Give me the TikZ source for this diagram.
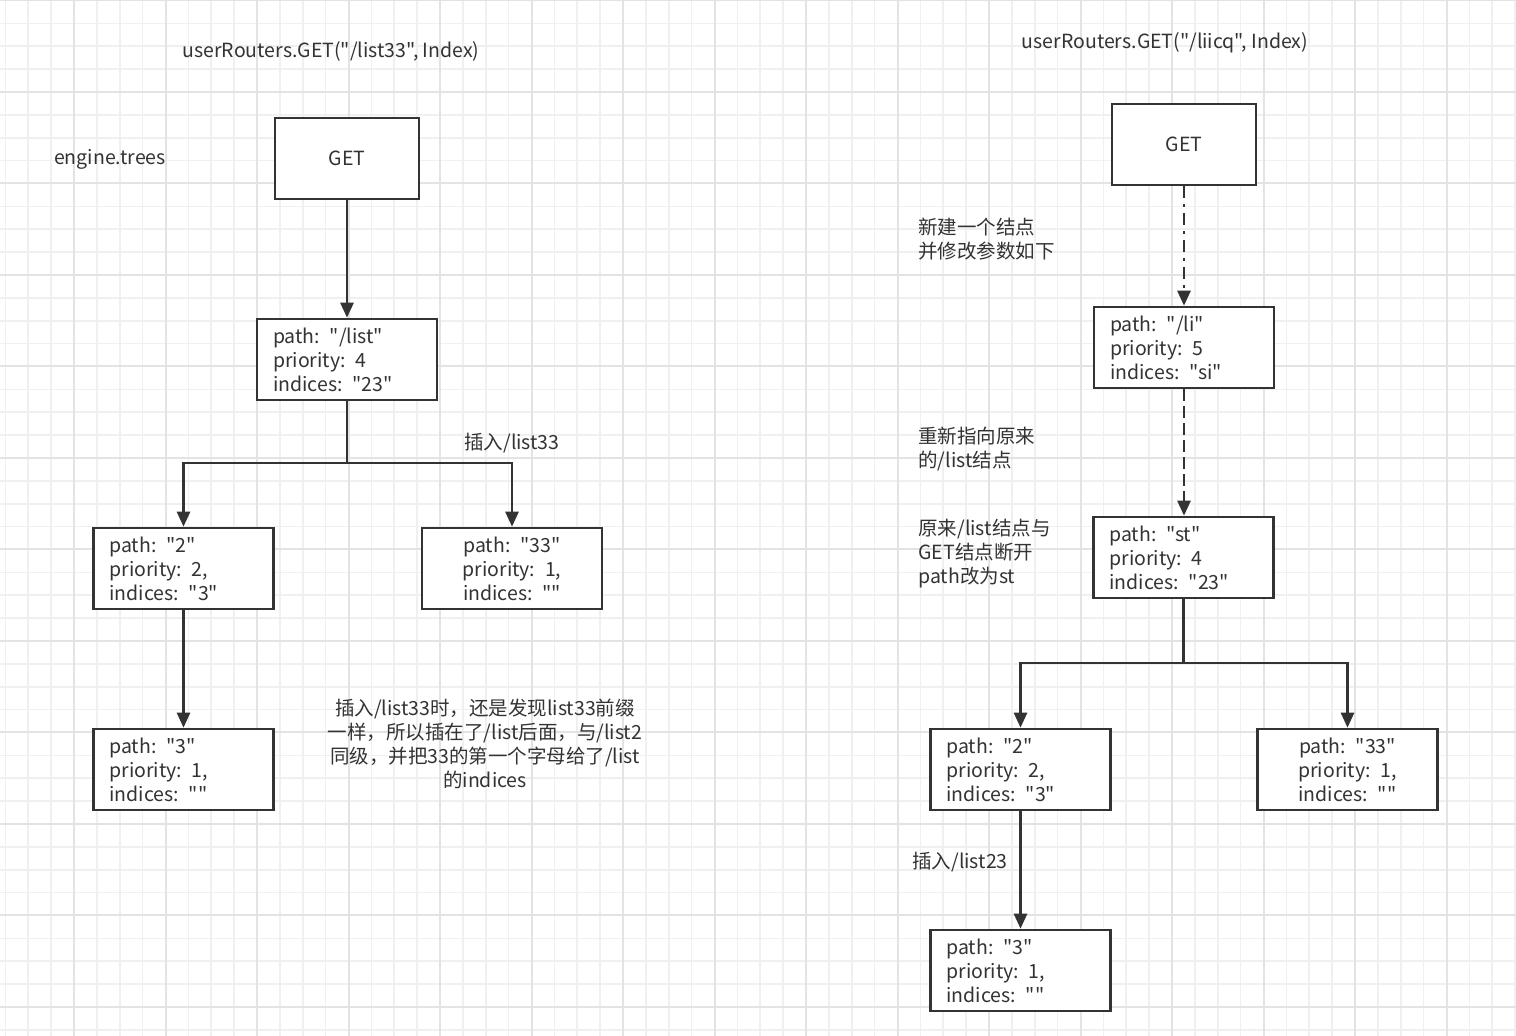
\documentclass[tikz,border=0pt]{standalone}
\usepackage{fontspec}
\setmainfont{Noto Sans CJK SC}[Ligatures=TeXOff]
\usetikzlibrary{arrows.meta}
\definecolor{ink}{HTML}{333333}
\definecolor{gridminor}{HTML}{F0F0F0}
\definecolor{gridmajor}{HTML}{E3E3E3}
\newcommand{\fs}{\fontsize{9.75pt}{12pt}\selectfont}
\newcommand{\gp}{\hspace{0.5em}}
\tikzset{
  gridmin/.style={draw=gridminor, line width=0.8pt},
  gridmaj/.style={draw=gridmajor, line width=1pt},
  box/.style={draw=ink, line width=1.3pt, fill=white, minimum width=90pt, minimum height=40.5pt,
    text width=74pt, inner xsep=8pt, inner ysep=0pt, font=\fs, text=ink},
  lbox/.style={box, align=left},
  cbox/.style={box, align=center},
  getbox/.style={draw=ink, line width=1.3pt, fill=white, minimum width=72pt, minimum height=40.5pt,
    inner sep=0pt, font=\fs, text=ink},
  lbl/.style={inner sep=0pt, font=\fs, text=ink, yshift=-1pt},
  ln/.style={draw=ink, line width=1.3pt},
  arr/.style={ln, -{Triangle[length=7.5pt,width=6.5pt]}},
}
\begin{document}
\begin{tikzpicture}[x=0.5pt,y=-0.5pt]
\useasboundingbox (0,0) rectangle (1516,1036);
\fill[white] (0,0) rectangle (1516,1036);
% grid
\foreach \i in {0,...,67} {
  \draw[gridmin] ({-17.5+22.875*\i},0) -- ({-17.5+22.875*\i},1036);
}
\foreach \i in {0,...,46} {
  \draw[gridmin] (0,{0.5+22.875*\i}) -- (1516,{0.5+22.875*\i});
}
\foreach \i in {0,...,17} {
  \draw[gridmaj] ({-17.5+91.5*\i},0) -- ({-17.5+91.5*\i},1036);
}
\foreach \i in {0,...,11} {
  \draw[gridmaj] (0,{0.5+91.5*\i}) -- (1516,{0.5+91.5*\i});
}

% ---------- left tree ----------
\node[lbl] (t1) at (331,49) {userRouters.GET("/list33", Index)};
\node[lbl] (et) at (110,157) {engine.trees};
\node[getbox] (get1) at (347,158.5) {GET};
\node[lbox] (l1) at (347,359.5) {path: "/list"\\priority:\gp 4\\indices:\gp "23"};
\node[lbox] (l2a) at (183.5,568.5) {path: "2"\\priority:\gp 2,\\indices:\gp "3"};
\node[cbox] (l2b) at (512,568.5) {path: "33"\\priority:\gp 1,\\indices:\gp ""};
\node[lbox] (l3) at (183.5,769.5) {path: "3"\\priority:\gp 1,\\indices:\gp ""};
\coordinate (j1) at (347,463);
\node[lbl] (ins33) at (512,441) {插入/list33};
\node[lbl, align=center] (note) at (485,742) {插入/list33时，还是发现list33前缀\\一样，所以插在了/list后面，与/list2\\同级，并把33的第一个字母给了/list\\的indices};

\draw[arr] (get1) -- (l1);
\draw[ln] (l1) -- (j1);
\draw[arr] (j1) -| (l2a);
\draw[arr] (j1) -| (l2b);
\draw[arr] (l2a) -- (l3);

% ---------- right tree ----------
\node[lbl] (t2) at (1165,41) {userRouters.GET("/liicq", Index)};
\node[getbox] (get2) at (1184,144.5) {GET};
\node[lbox] (r1) at (1184,347.5) {path: "/li"\\priority:\gp 5\\indices:\gp "si"};
\node[lbox] (r2) at (1183.5,557.5) {path: "st"\\priority:\gp 4\\indices:\gp "23"};
\node[lbox] (r3a) at (1020.5,769.5) {path: "2"\\priority:\gp 2,\\indices:\gp "3"};
\node[cbox] (r3b) at (1347.5,769.5) {path: "33"\\priority:\gp 1,\\indices:\gp ""};
\node[lbox] (r4) at (1020.5,970.5) {path: "3"\\priority:\gp 1,\\indices:\gp ""};
\coordinate (j2) at (1183.5,663);

\node[lbl, align=left, anchor=west] (n1) at (918,237) {新建一个结点\\并修改参数如下};
\node[lbl, align=left, anchor=west] (n2) at (918,447) {重新指向原来\\的/list结点};
\node[lbl, align=left, anchor=west] (n3) at (918,552) {原来/list结点与\\GET结点断开\\path改为st};
\node[lbl] (ins23) at (960,860) {插入/list23};

\draw[arr, dash pattern=on 6pt off 3pt on 1.5pt off 3pt] (get2) -- (r1);
\draw[arr, dash pattern=on 6pt off 2.5pt] (r1.south) -- (r1.south |- r2.north);
\draw[ln] (r2) -- (j2);
\draw[arr] (j2) -| (r3a);
\draw[arr] (j2) -| (r3b);
\draw[arr] (r3a) -- (r4);
\end{tikzpicture}
\end{document}
